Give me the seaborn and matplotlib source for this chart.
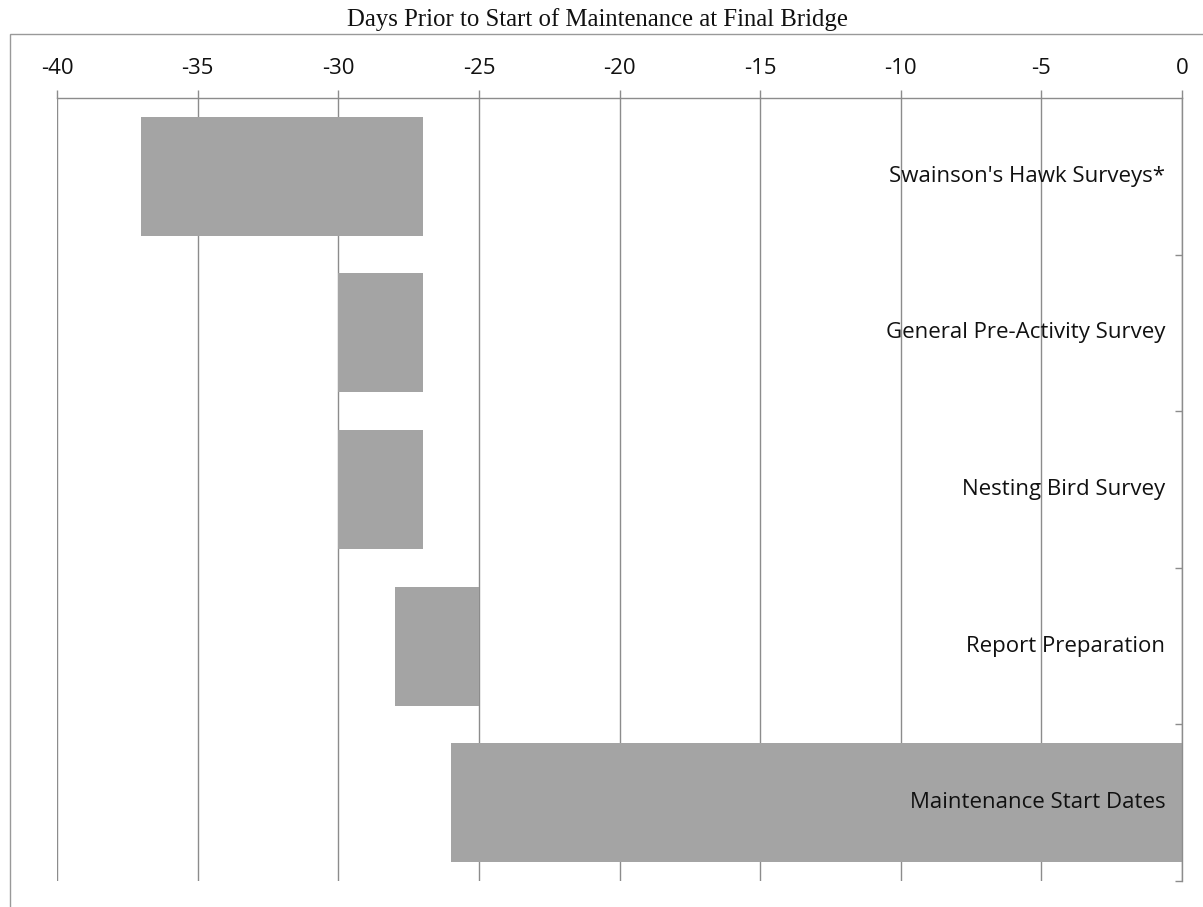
import matplotlib
matplotlib.use("Agg")
import matplotlib.pyplot as plt
import seaborn as sns
import numpy as np
import pandas as pd
from matplotlib.patches import Rectangle

# ---- data ----
tasks = ["Swainson's Hawk Surveys*", "General Pre-Activity Survey",
         "Nesting Bird Survey", "Report Preparation", "Maintenance Start Dates"]
start_days = [-37, -30, -30, -28, -26]
end_days = [-27, -27, -27, -25, 0]
x_ticks = [-40, -35, -30, -25, -20, -15, -10, -5, 0]
title = "Days Prior to Start of Maintenance at Final Bridge"

df = pd.DataFrame({"task": tasks, "start": start_days, "end": end_days})
df["duration"] = df["end"] - df["start"]

sns.set_theme(style="white")
plt.rcParams["font.family"] = ["Open Sans", "DejaVu Sans"]

W, H = 1203, 907
fig = plt.figure(figsize=(W / 100, H / 100), dpi=100)
ax = fig.add_axes([57 / W, 1 - 881 / H, (1182 - 57) / W, (881 - 98) / H])

grid_c = "#8c8c8c"
ax.set_axisbelow(True)
ax.barh(np.arange(len(df)), df["duration"], left=df["start"], height=0.76,
        color="#a4a4a4", edgecolor="none", zorder=2)

ax.set_xlim(-40, 0)
ax.set_ylim(len(df) - 0.5, -0.5)
ax.set_xticks(x_ticks)
ax.set_xticklabels([str(v) for v in x_ticks])
ax.xaxis.tick_top()
ax.tick_params(axis="x", which="major", top=True, bottom=False, direction="out",
               length=6, width=1, color=grid_c, pad=8, labelsize=16,
               labelcolor="#111111")
ax.grid(axis="x", color=grid_c, linewidth=1, zorder=0)
ax.grid(axis="y", visible=False)

# category boundary ticks on right
ax.set_yticks(np.arange(len(df)) + 0.5)
ax.set_yticklabels([])
ax.yaxis.tick_right()
ax.tick_params(axis="y", right=True, left=False, direction="in", length=5,
               width=1, color=grid_c)

for s in ["left", "bottom"]:
    ax.spines[s].set_visible(False)
for s in ["top", "right"]:
    ax.spines[s].set_color(grid_c)
    ax.spines[s].set_linewidth(1)

for i, t in enumerate(df["task"]):
    ax.text(-0.6, i, t, ha="right", va="center", fontsize=16,
            color="#111111", zorder=3)

# outer chart frame
fig.patches.append(Rectangle((10 / W, -0.02), 1.0, 1 - 34 / H + 0.02,
                             transform=fig.transFigure, fill=False,
                             edgecolor="#999999", linewidth=1))

fig.text(597 / W, 1 - 26 / H, title, ha="center", va="baseline",
         fontsize=17.8, family=["Liberation Serif", "DejaVu Serif"],
         color="#111111")

fig.savefig("out.png", dpi=100)
